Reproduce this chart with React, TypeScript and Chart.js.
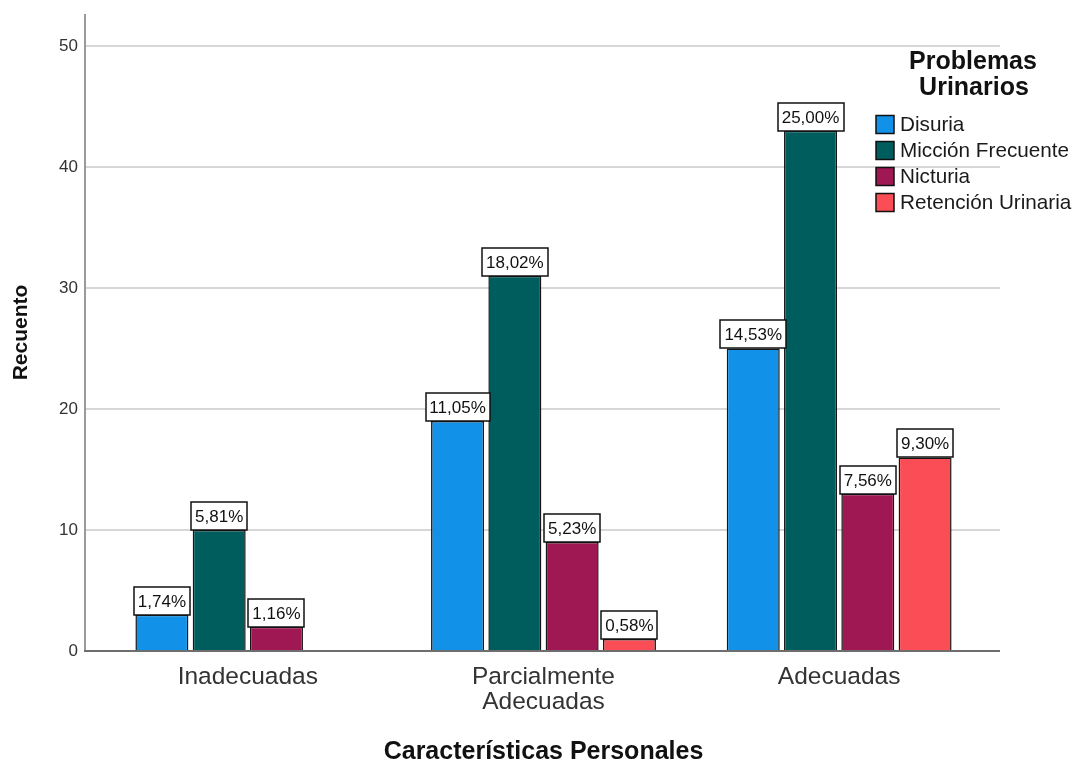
import React, { useEffect, useRef } from "react";
import { Chart, registerables } from "chart.js";

Chart.register(...registerables);

const categories: string[][] = [["Inadecuadas"], ["Parcialmente", "Adecuadas"], ["Adecuadas"]];
const seriesNames = ["Disuria", "Micción Frecuente", "Nicturia", "Retención Urinaria"];
const disuria = [3, 19, 25];
const miccionFrecuente = [10, 31, 43];
const nicturia = [2, 9, 13];
const retencionUrinaria: (number | null)[] = [null, 1, 16];
const yTickValues = [0, 10, 20, 30, 40, 50];
const seriesColors = ["#1192E8", "#005D5D", "#9F1853", "#FA4D56"];

const FONT = '"Liberation Sans", Arial, Helvetica, sans-serif';

const allSeries = [disuria, miccionFrecuente, nicturia, retencionUrinaria];
const total = allSeries.reduce(
  (s, arr) => s + arr.reduce((a: number, v) => a + (v ?? 0), 0),
  0
);

const gridPlugin = {
  id: "spssGrid",
  beforeDatasetsDraw(chart: any) {
    const { ctx, chartArea } = chart;
    const y = chart.scales.y;
    const left = chartArea.left - 15;
    const right = chartArea.right + 13;
    ctx.save();
    ctx.strokeStyle = "#d7d7d7";
    ctx.lineWidth = 2;
    yTickValues.forEach((v) => {
      if (v === 0) return;
      const py = Math.round(y.getPixelForValue(v));
      ctx.beginPath();
      ctx.moveTo(left, py);
      ctx.lineTo(right, py);
      ctx.stroke();
    });
    ctx.strokeStyle = "#9a9a9a";
    ctx.beginPath();
    ctx.moveTo(left, chartArea.top);
    ctx.lineTo(left, chartArea.bottom);
    ctx.stroke();
    ctx.restore();
  },
  afterDatasetsDraw(chart: any) {
    const { ctx, chartArea } = chart;
    const left = chartArea.left - 15;
    const right = chartArea.right + 13;
    ctx.save();
    ctx.strokeStyle = "#6e6e6e";
    ctx.lineWidth = 2;
    ctx.beginPath();
    ctx.moveTo(left - 1, chartArea.bottom);
    ctx.lineTo(right, chartArea.bottom);
    ctx.stroke();
    ctx.restore();
  },
};

const labelPlugin = {
  id: "pctLabels",
  afterDatasetsDraw(chart: any) {
    const ctx = chart.ctx;
    ctx.save();
    ctx.font = `17px ${FONT}`;
    chart.data.datasets.forEach((ds: any, di: number) => {
      const meta = chart.getDatasetMeta(di);
      meta.data.forEach((bar: any, i: number) => {
        const v = ds.data[i];
        if (v == null || v === 0) return;
        const txt = ((v / total) * 100).toFixed(2).replace(".", ",") + "%";
        const w = Math.round(ctx.measureText(txt).width + 8);
        const h = 28;
        const x = Math.round(bar.x - w / 2);
        const y = Math.round(bar.y - h);
        ctx.fillStyle = "#ffffff";
        ctx.fillRect(x, y, w, h);
        ctx.strokeStyle = "#111111";
        ctx.lineWidth = 1.5;
        ctx.strokeRect(x, y, w, h);
        ctx.fillStyle = "#111111";
        ctx.textAlign = "center";
        ctx.textBaseline = "middle";
        ctx.fillText(txt, bar.x, y + h / 2 + 1);
      });
    });
    ctx.restore();
  },
};

const legendPlugin = {
  id: "spssLegend",
  afterDraw(chart: any) {
    const ctx = chart.ctx;
    ctx.save();
    ctx.fillStyle = "#111111";
    ctx.font = `bold 25px ${FONT}`;
    ctx.textAlign = "center";
    ctx.textBaseline = "middle";
    ctx.fillText("Problemas", 973, 62);
    ctx.fillText("Urinarios", 974, 88);
    ctx.font = `20.7px ${FONT}`;
    ctx.textAlign = "left";
    chart.data.datasets.forEach((ds: any, i: number) => {
      const cy = 124.5 + i * 26;
      ctx.fillStyle = ds.backgroundColor;
      ctx.fillRect(876, cy - 9, 18, 18);
      ctx.strokeStyle = "#111111";
      ctx.lineWidth = 1.5;
      ctx.strokeRect(876, cy - 9, 18, 18);
      ctx.fillStyle = "#1a1a1a";
      ctx.fillText(ds.label, 900, cy + 1);
    });
    ctx.restore();
  },
};

export default function App() {
  const canvasRef = useRef<HTMLCanvasElement | null>(null);

  useEffect(() => {
    if (!canvasRef.current) return;
    Chart.defaults.font.family = FONT;
    const chart = new Chart(canvasRef.current, {
      type: "bar",
      data: {
        labels: categories,
        datasets: allSeries.map((data, i) => ({
          label: seriesNames[i],
          data,
          backgroundColor: seriesColors[i],
          borderColor: "#161616",
          borderWidth: 1.5,
          categoryPercentage: 0.775,
          barPercentage: 0.925,
        })),
      },
      options: {
        responsive: false,
        animation: false,
        layout: { padding: { top: 14, right: 85, left: 0, bottom: 0 } },
        plugins: {
          legend: { display: false },
          tooltip: { enabled: false },
        },
        scales: {
          x: {
            grid: { display: false, drawTicks: false },
            border: { display: false },
            ticks: {
              color: "#333333",
              font: { size: 24.5, lineHeight: 1.0 },
              padding: 14,
              maxRotation: 0,
              autoSkip: false,
            },
            title: {
              display: true,
              text: "Características Personales",
              color: "#111111",
              font: { size: 25, weight: "bold", lineHeight: 0.88 },
              padding: { top: 0, bottom: 0 },
            },
            afterFit: (s: any) => {
              s.height = 112;
            },
          },
          y: {
            min: 0,
            max: 52.64,
            grid: { display: false, drawTicks: false },
            border: { display: false },
            ticks: {
              color: "#333333",
              font: { size: 17 },
              padding: 22,
            },
            afterBuildTicks: (s: any) => {
              s.ticks = yTickValues.map((v) => ({ value: v }));
            },
            title: {
              display: true,
              text: "Recuento",
              color: "#111111",
              font: { size: 21, weight: "bold", lineHeight: 1.2 },
              padding: { top: 9, bottom: 0 },
            },
            afterFit: (s: any) => {
              s.width = 100;
              s.paddingTop = 0;
              s.paddingBottom = 0;
            },
          },
        },
      },
      plugins: [gridPlugin, labelPlugin, legendPlugin],
    } as any);
    return () => chart.destroy();
  }, []);

  return (
    <div style={{ position: "absolute", left: 0, top: 0, width: 1072, height: 763, background: "#ffffff" }}>
      <canvas ref={canvasRef} width={1072} height={763} style={{ width: 1072, height: 763, display: "block" }} />
    </div>
  );
}
